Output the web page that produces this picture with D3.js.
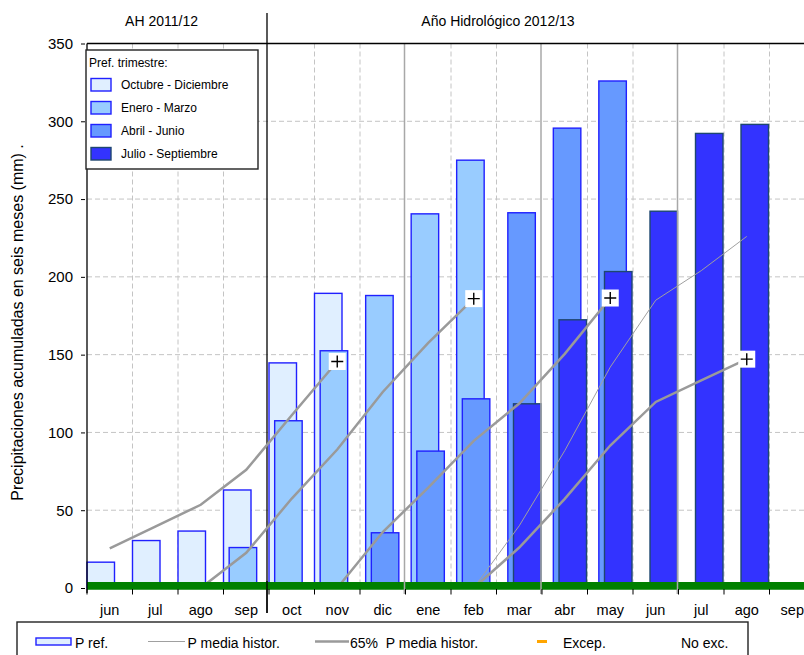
<!DOCTYPE html>
<html><head><meta charset="utf-8">
<script src="https://cdn.jsdelivr.net/npm/d3@7/dist/d3.min.js"></script>
<style>body{margin:0;background:#fff}text{font-family:"Liberation Sans",Arial,sans-serif;fill:#000}</style>
</head><body><svg id="c" width="804" height="655"></svg>
<script>
// ---- data ----
const months = ["jun","jul","ago","sep","oct","nov","dic","ene","feb","mar","abr","may","jun","jul","ago","sep"];
const yTicks = [0,50,100,150,200,250,300,350];
const periodTitles = ["AH 2011/12","Año Hidrológico 2012/13"];
const seriesNames = ["Octubre - Diciembre","Enero - Marzo","Abril - Junio","Julio - Septiembre"];
const seriesStart = [0,3,6,9];
const pRefOctDic = [16.6,30.5,36.6,63,144.7,189.4];
const pRefEneMar = [26,107.5,152.5,188,240.5,275];
const pRefAbrJun = [35.5,88,121.6,241.2,295.6,325.9];
const pRefJulSep = [118.4,172.4,203.4,242.2,292.2,298];
const lineStart = [0,2,5,8];
const media65a = [25.5,39.5,53.5,76,111,145.6];
const media65b = [0,22.6,57.5,89,126,157.6,186];
const media65c = [0,36,64.5,94.6,118.6,150.5,186.4];
const media65d = [0,26,57.3,91.6,119.6,133.4,147.1];
const mediaStart = 8;
const mediaHist = [0,40,88.3,142,185,204,226];
const legendItems = ["P ref.","P media histor.","65%  P media histor.","Excep.","No exc."];

const pRef = [pRefOctDic,pRefEneMar,pRefAbrJun,pRefJulSep];
const media65 = [media65a,media65b,media65c,media65d];
const fills = ["#E0EFFF","#99CCFF","#6699FF","#3333FF"];
const strokes = ["#2020FF","#2020FF","#2020FF","#1E4770"];

// ---- scales ----
const svg = d3.select("#c");
const x = d3.scaleBand().domain(d3.range(months.length)).range([87,815]).padding(0);
const y = d3.scaleLinear().domain([0,350]).range([588,43.5]);
const off = d3.scaleLinear().domain([0,3]).range([0,17]);
const barW = 27.5;
const cx = i => x(i) + x.bandwidth()/2;
const L = 87, R = 804;

// ---- grid ----
const g = svg.append("g");
g.selectAll(".hg").data(yTicks.filter(v=>v>0&&v<350)).join("line")
  .attr("x1",L).attr("x2",R).attr("y1",d=>y(d)).attr("y2",d=>y(d))
  .attr("stroke","#c4c4c4").attr("stroke-dasharray","5,3");
const quarters = [7,10,13];
g.selectAll(".vg").data(d3.range(1,16).filter(i=>i!==4 && !quarters.includes(i))).join("line")
  .attr("x1",i=>x(i)).attr("x2",i=>x(i)).attr("y1",y(350)).attr("y2",y(0))
  .attr("stroke","#c4c4c4").attr("stroke-dasharray","5,3");

// ---- bars ----
pRef.forEach((vals,s)=>{
  svg.append("g").selectAll("rect").data(vals).join("rect")
    .attr("x",(d,k)=>x(seriesStart[s]+k)+off(s))
    .attr("y",d=>y(d)).attr("width",barW).attr("height",d=>y(0)-y(d))
    .attr("fill",fills[s]).attr("stroke",strokes[s]).attr("stroke-width",1.4);
});

// green baseline band
svg.append("rect").attr("x",L).attr("y",y(0)-6).attr("width",R-L).attr("height",7.5).attr("fill","#008000");

// quarter lines & separator
svg.selectAll(".ql").data(quarters).join("line")
  .attr("x1",i=>x(i)-1).attr("x2",i=>x(i)-1).attr("y1",y(350)).attr("y2",594)
  .attr("stroke","#a8a8a8").attr("stroke-width",1.5);
svg.append("line").attr("x1",x(4)-2).attr("x2",x(4)-2).attr("y1",13).attr("y2",613)
  .attr("stroke","#000").attr("stroke-width",1.3);

// ---- lines ----
const line = d3.line().x(d=>cx(d.i)).y(d=>y(d.v));
media65.forEach((vals,s)=>{
  svg.append("path").datum(vals.map((v,k)=>({i:lineStart[s]+k,v})))
    .attr("d",line).attr("fill","none").attr("stroke","#9a9a9a").attr("stroke-width",2.5);
});
svg.append("path").datum(mediaHist.map((v,k)=>({i:mediaStart+k,v})))
  .attr("d",line).attr("fill","none").attr("stroke","#a0a0a0").attr("stroke-width",1);

// green band redrawn over line starts
svg.append("rect").attr("x",L).attr("y",y(0)-6).attr("width",R-L).attr("height",7.5).attr("fill","#008000");
svg.selectAll(".ql2").data(quarters).join("line")
  .attr("x1",i=>x(i)-1).attr("x2",i=>x(i)-1).attr("y1",y(0)-7).attr("y2",594)
  .attr("stroke","#a8a8a8").attr("stroke-width",1.5);
svg.append("line").attr("x1",x(4)-2).attr("x2",x(4)-2).attr("y1",y(0)-7).attr("y2",613)
  .attr("stroke","#000").attr("stroke-width",1.3);

// + markers
const ends = media65.map((vals,s)=>({i:lineStart[s]+vals.length-1,v:vals[vals.length-1]}));
const mk = svg.selectAll(".mk").data(ends).join("g")
  .attr("transform",d=>`translate(${cx(d.i)},${y(d.v)})`);
mk.append("rect").attr("x",-8.5).attr("y",-8.5).attr("width",17).attr("height",17).attr("fill","#fff");
mk.append("path").attr("d","M-6,0H6M0,-6V6").attr("stroke","#000").attr("stroke-width",1.4);

// ---- axes ----
svg.append("line").attr("x1",L).attr("x2",L).attr("y1",y(350)).attr("y2",593).attr("stroke","#000").attr("stroke-width",1.3);
svg.append("line").attr("x1",L).attr("x2",R).attr("y1",y(350)).attr("y2",y(350)).attr("stroke","#000").attr("stroke-width",1.3);

const ya = svg.append("g").attr("transform","translate(85,0)")
  .call(d3.axisLeft(y).tickValues(yTicks).tickSize(4).tickPadding(8));
ya.select(".domain").remove();
ya.selectAll("text").style("font-size","15px").attr("font-family","Liberation Sans, Arial, sans-serif");

svg.selectAll(".xt").data(d3.range(0,17)).join("line")
  .attr("x1",i=>L+i*x.bandwidth()).attr("x2",i=>L+i*x.bandwidth()).attr("y1",589).attr("y2",594.5)
  .attr("stroke","#000");
const xa = svg.append("g").attr("transform","translate(0,590)")
  .call(d3.axisBottom(x).tickFormat(i=>months[i]).tickSize(0).tickPadding(15));
xa.select(".domain").remove();
xa.selectAll("text").style("font-size","14.5px").attr("font-family","Liberation Sans, Arial, sans-serif");

// titles
svg.append("text").attr("x",161.5).attr("y",25.5).attr("text-anchor","middle").style("font-size","14px").text(periodTitles[0]);
svg.append("text").attr("x",498).attr("y",25.5).attr("text-anchor","middle").style("font-size","14px").text(periodTitles[1]);

// y label
svg.append("text").attr("transform","translate(23,322.5) rotate(-90)").attr("text-anchor","middle")
  .style("font-size","16px").text("Precipitaciones acumuladas en seis meses (mm) .");

// ---- legend (top-left) ----
const lg = svg.append("g");
lg.append("rect").attr("x",86).attr("y",50).attr("width",172).attr("height",119).attr("fill","#fff").attr("stroke","#222").attr("stroke-width",1.4);
lg.append("text").attr("x",89).attr("y",67).style("font-size","12px").text("Pref. trimestre:");
seriesNames.forEach((n,s)=>{
  const yy = 78.5 + s*23;
  lg.append("rect").attr("x",91).attr("y",yy).attr("width",20).attr("height",12.5).attr("fill",fills[s]).attr("stroke",strokes[s]).attr("stroke-width",1.4);
  lg.append("text").attr("x",121).attr("y",yy+10.5).style("font-size","12px").text(n);
});

// ---- legend (bottom) ----
const bl = svg.append("g");
bl.append("rect").attr("x",17).attr("y",622).attr("width",731).attr("height",60).attr("fill","#fff").attr("stroke","#222").attr("stroke-width",1.4);
bl.append("rect").attr("x",36).attr("y",638).attr("width",35).attr("height",7).attr("fill",fills[0]).attr("stroke","#2020FF").attr("stroke-width",1.4);
bl.append("line").attr("x1",148).attr("x2",185).attr("y1",641.5).attr("y2",641.5).attr("stroke","#a0a0a0").attr("stroke-width",1);
bl.append("line").attr("x1",315).attr("x2",349).attr("y1",641.5).attr("y2",641.5).attr("stroke","#9a9a9a").attr("stroke-width",2.5);
bl.append("line").attr("x1",537).attr("x2",547).attr("y1",641.5).attr("y2",641.5).attr("stroke","#FFA500").attr("stroke-width",3);
const lx = [75,187.5,350,563,681];
legendItems.forEach((t,k)=>{
  bl.append("text").attr("x",lx[k]).attr("y",647.5).style("font-size","14px").style("white-space","pre").text(t);
});
</script></body></html>
